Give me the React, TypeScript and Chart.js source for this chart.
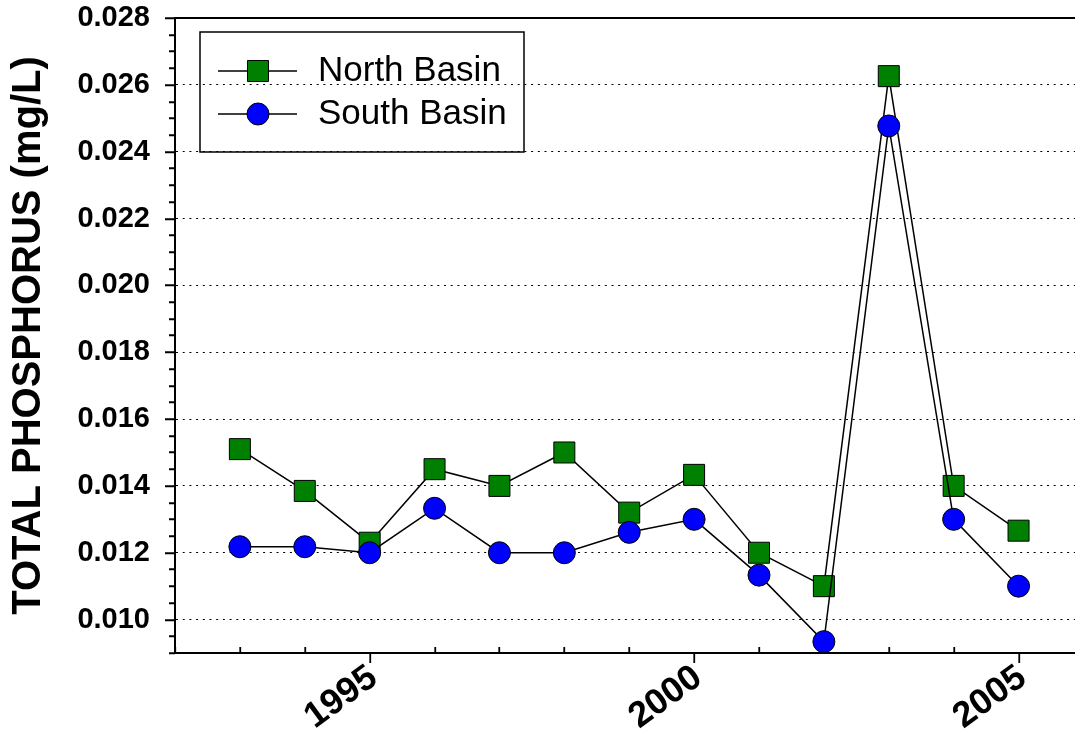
import React, { useEffect, useRef } from 'react';
import { Chart, registerables } from 'chart.js';

Chart.register(...registerables);

// Annual mean total phosphorus by basin
const years = [1993, 1994, 1995, 1996, 1997, 1998, 1999, 2000, 2001, 2002, 2003, 2004, 2005];
const northBasin = [0.0151, 0.01385, 0.0123, 0.0145, 0.014, 0.015, 0.0132, 0.01433, 0.012, 0.011, 0.02626, 0.014, 0.01266];
const southBasin = [0.01218, 0.01218, 0.012, 0.01333, 0.012, 0.012, 0.01261, 0.013, 0.01133, 0.00934, 0.02477, 0.013, 0.011];

const seriesNames = ['North Basin', 'South Basin'];
const yAxisTitle = 'TOTAL PHOSPHORUS (mg/L)';

// Axis ranges and tick spacing
const xMin = 1992;
const xMax = 2005.87;
const xMajorEvery = 5;
const yMin = 0.009;
const yMax = 0.028;
const yMajorStep = 0.002;
const yMinorStep = 0.0005;

const FONT = '"Liberation Sans", Arial, Helvetica, sans-serif';

const isYMajor = (v: number) => Math.abs(v / yMajorStep - Math.round(v / yMajorStep)) < 1e-6;
const isXMajor = (v: number) => Math.abs(v % xMajorEvery) < 1e-6;

// Frame line on top plus major/minor tick marks
const axisMarks = {
  id: 'axisMarks',
  beforeDatasetsDraw(chart: any) {
    const { ctx, chartArea, scales } = chart;
    const xs = scales.x;
    const ys = scales.y;
    ctx.save();
    ctx.strokeStyle = '#000';
    ctx.lineWidth = 1.8;
    ctx.beginPath();
    ys.ticks.forEach((t: any) => {
      const py = Math.round(ys.getPixelForValue(t.value)) + 0.25;
      const len = isYMajor(t.value) ? 10 : 6;
      ctx.moveTo(chartArea.left, py);
      ctx.lineTo(chartArea.left - len, py);
    });
    xs.ticks.forEach((t: any) => {
      const px = Math.round(xs.getPixelForValue(t.value)) + 0.25;
      if (isXMajor(t.value)) {
        ctx.moveTo(px, chartArea.bottom);
        ctx.lineTo(px, chartArea.bottom + 10);
      } else {
        ctx.moveTo(px, chartArea.bottom);
        ctx.lineTo(px, chartArea.bottom - 6);
      }
    });
    ctx.stroke();
    ctx.lineWidth = 2;
    ctx.beginPath();
    ctx.moveTo(chartArea.left - 1, chartArea.top);
    ctx.lineTo(chartArea.right, chartArea.top);
    ctx.stroke();
    ctx.restore();
  },
};

// Boxed legend inside the plot area
const boxedLegend = {
  id: 'boxedLegend',
  afterDatasetsDraw(chart: any) {
    const { ctx, chartArea } = chart;
    const x0 = chartArea.left + 25;
    const y0 = chartArea.top + 14;
    const w = 324;
    const h = 120;
    ctx.save();
    ctx.strokeStyle = '#000';
    ctx.lineWidth = 1.5;
    ctx.strokeRect(x0, y0, w, h);
    chart.data.datasets.forEach((ds: any, i: number) => {
      const cy = y0 + 39 + i * 43;
      const mx = x0 + 58;
      ctx.strokeStyle = '#000';
      ctx.lineWidth = 1.5;
      ctx.beginPath();
      ctx.moveTo(x0 + 18, cy);
      ctx.lineTo(x0 + 97, cy);
      ctx.stroke();
      ctx.fillStyle = ds.pointBackgroundColor;
      ctx.lineWidth = 1;
      ctx.beginPath();
      if (ds.pointStyle === 'rect') {
        const half = ds.pointRadius * Math.SQRT1_2;
        ctx.rect(mx - half, cy - half, half * 2, half * 2);
      } else {
        ctx.arc(mx, cy, ds.pointRadius, 0, Math.PI * 2);
      }
      ctx.fill();
      ctx.stroke();
      ctx.fillStyle = '#000';
      ctx.font = `35px ${FONT}`;
      ctx.textAlign = 'left';
      ctx.textBaseline = 'middle';
      ctx.fillText(ds.label, x0 + 118, cy);
    });
    ctx.restore();
  },
};

export default function App() {
  const canvasRef = useRef<HTMLCanvasElement | null>(null);

  useEffect(() => {
    if (!canvasRef.current) return;
    const toPoints = (vals: number[]) => years.map((yr, i) => ({ x: yr, y: vals[i] }));
    const chart = new Chart(canvasRef.current, {
      type: 'line',
      data: {
        datasets: [
          {
            label: seriesNames[0],
            data: toPoints(northBasin),
            borderColor: '#000',
            borderWidth: 1.5,
            pointStyle: 'rect',
            pointRadius: 14.85,
            pointBackgroundColor: '#008000',
            pointBorderColor: '#000',
            pointBorderWidth: 1,
            tension: 0,
            order: 1,
          },
          {
            label: seriesNames[1],
            data: toPoints(southBasin),
            borderColor: '#000',
            borderWidth: 1.5,
            pointStyle: 'circle',
            pointRadius: 11,
            pointBackgroundColor: '#0000ff',
            pointBorderColor: '#000',
            pointBorderWidth: 1,
            tension: 0,
            order: 0,
          },
        ],
      },
      options: {
        animation: false,
        responsive: true,
        maintainAspectRatio: false,
        events: [],
        layout: { autoPadding: false, padding: { top: 18, left: 0, right: 0, bottom: 0 } },
        plugins: {
          legend: { display: false },
          tooltip: { enabled: false },
        },
        scales: {
          x: {
            type: 'linear',
            min: xMin,
            max: xMax,
            grid: { display: false, drawTicks: false },
            border: { display: true, color: '#000', width: 2 },
            ticks: {
              stepSize: 1,
              includeBounds: false,
              autoSkip: false,
              minRotation: 36,
              maxRotation: 36,
              padding: 5,
              labelOffset: 4,
              color: '#000',
              font: { family: FONT, size: 36, weight: 'bold', lineHeight: 1.1 },
              callback: (v: any) => (isXMajor(Number(v)) ? String(v) : ''),
            },
            afterFit: (scale: any) => {
              scale.height = 82;
              scale.paddingLeft = 0;
              scale.paddingRight = 0;
            },
          },
          y: {
            type: 'linear',
            min: yMin,
            max: yMax,
            grid: {
              drawTicks: false,
              lineWidth: 1,
              color: (c: any) => (c.tick && isYMajor(c.tick.value) ? '#000' : 'rgba(0,0,0,0)'),
            },
            border: { display: true, color: '#000', width: 2, dash: [2, 4.7] },
            ticks: {
              stepSize: yMinorStep,
              autoSkip: false,
              padding: 25,
              color: '#000',
              font: { family: FONT, size: 29, weight: 'bold' },
              callback: (v: any) => (isYMajor(Number(v)) ? Number(v).toFixed(3) : ''),
            },
            title: {
              display: true,
              text: yAxisTitle,
              color: '#000',
              padding: { top: 5, bottom: 0 },
              font: { family: FONT, size: 40, weight: 'bold' },
            },
            afterFit: (scale: any) => {
              scale.width = 175;
              scale.paddingTop = 0;
              scale.paddingBottom = 0;
            },
          },
        },
      },
      plugins: [axisMarks, boxedLegend],
    } as any);
    return () => chart.destroy();
  }, []);

  return (
    <div style={{ position: 'fixed', left: 0, top: 0, width: 1075, height: 735, background: '#fff' }}>
      <canvas ref={canvasRef} />
    </div>
  );
}
